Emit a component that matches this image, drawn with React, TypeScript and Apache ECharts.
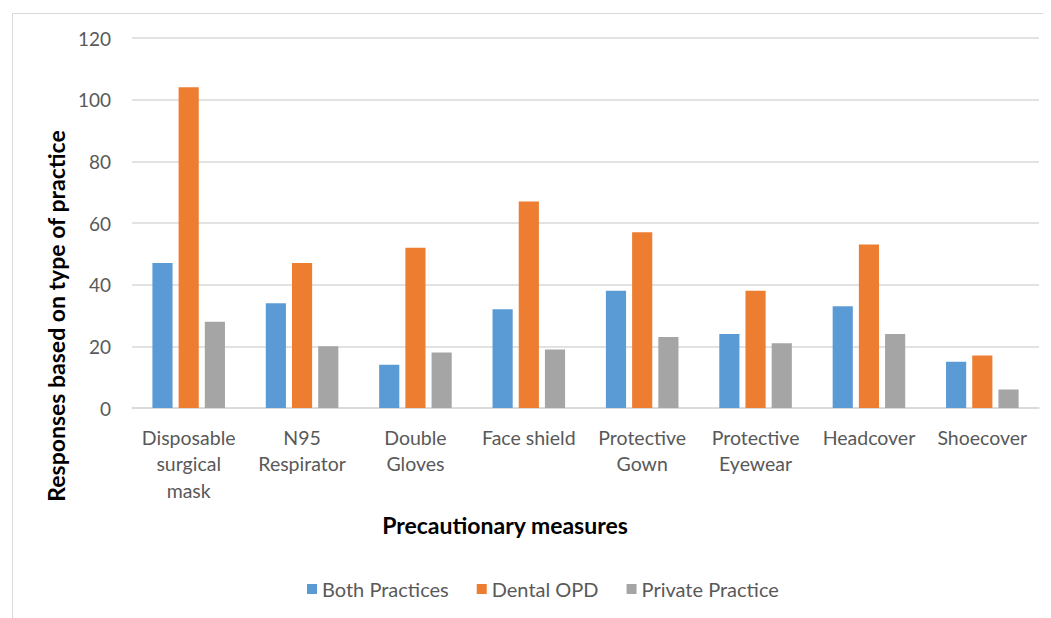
import React, { useEffect, useRef } from "react";
import * as echarts from "echarts";

const categories = [
  "Disposable\nsurgical\nmask",
  "N95\nRespirator",
  "Double\nGloves",
  "Face shield",
  "Protective\nGown",
  "Protective\nEyewear",
  "Headcover",
  "Shoecover",
];
const seriesNames = ["Both Practices", "Dental OPD", "Private Practice"];
const bothPractices = [47, 34, 14, 32, 38, 24, 33, 15];
const dentalOPD = [104, 47, 52, 67, 57, 38, 53, 17];
const privatePractice = [28, 20, 18, 19, 23, 21, 24, 6];
const colors = ["#5B9BD5", "#ED7D31", "#A5A5A5"];
const yTitle = "Responses based on type of practice";
const xTitle = "Precautionary measures";

const FONT = "Lato, 'Open Sans', sans-serif";

export default function App() {
  const ref = useRef<HTMLDivElement>(null);
  useEffect(() => {
    if (!ref.current) return;
    const chart = echarts.init(ref.current, undefined, { renderer: "svg" });
    const values = [bothPractices, dentalOPD, privatePractice];
    chart.setOption({
      animation: false,
      backgroundColor: "#ffffff",
      textStyle: { fontFamily: FONT },
      grid: { left: 124, right: 12, top: 30, bottom: 210, containLabel: false },
      legend: {
        bottom: 14,
        left: 294,
        itemWidth: 10,
        itemHeight: 10,
        itemGap: 28,
        icon: "rect",
        textStyle: { fontFamily: FONT, fontSize: 20, color: "#595959" },
        data: seriesNames,
      },
      xAxis: {
        type: "category",
        data: categories,
        axisLine: { lineStyle: { color: "#D9D9D9", width: 1.5 } },
        axisTick: { show: false },
        axisLabel: {
          fontFamily: FONT,
          fontSize: 19.5,
          color: "#595959",
          lineHeight: 26.5,
          margin: 16,
          interval: 0,
        },
      },
      yAxis: {
        type: "value",
        min: 0,
        max: 120,
        interval: 20,
        axisLine: { show: false },
        axisTick: { show: false },
        splitLine: { lineStyle: { color: "#D9D9D9", width: 1.5 } },
        axisLabel: { fontFamily: FONT, fontSize: 19, color: "#595959", margin: 21 },
      },
      series: seriesNames.map((name, i) => ({
        name,
        type: "bar",
        data: values[i],
        barGap: "30%",
        barCategoryGap: "36%",
        itemStyle: { color: colors[i] },
      })),
      graphic: [
        {
          type: "rect",
          left: 2,
          top: 3,
          shape: { width: 1060, height: 640 },
          style: { fill: "none", stroke: "#D9D9D9", lineWidth: 1 },
          silent: true,
        },
        {
          type: "text",
          x: 48,
          y: 308,
          rotation: Math.PI / 2,
          style: {
            text: yTitle,
            font: `bold 23px ${FONT}`,
            fill: "#000000",
            textAlign: "center",
            textVerticalAlign: "middle",
          },
        },
        {
          type: "text",
          x: 497,
          y: 517,
          style: {
            text: xTitle,
            font: `bold 23px ${FONT}`,
            fill: "#000000",
            textAlign: "center",
            textVerticalAlign: "middle",
          },
        },
      ],
    });
    return () => chart.dispose();
  }, []);
  return <div ref={ref} style={{ width: 1043, height: 610 }} />;
}
